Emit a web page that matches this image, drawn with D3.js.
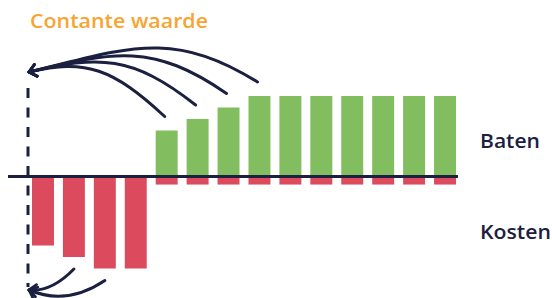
<!DOCTYPE html>
<html>
<head>
<meta charset="utf-8">
<script src="https://cdn.jsdelivr.net/npm/d3@7"></script>
<style>
  body { margin: 0; background: #fff; }
  text { font-family: "Open Sans", "DejaVu Sans", sans-serif; font-weight: 600; }
</style>
</head>
<body>
<script>
// jaren (kolommen), baten en kosten per jaar
var jaren = ["1", "2", "3", "4", "5", "6", "7", "8", "9", "10", "11", "12", "13", "14"];
var baten = [0, 0, 0, 0, 4, 5, 6, 7, 7, 7, 7, 7, 7, 7];
var kosten = [-6, -7, -8, -8, -0.7, -0.7, -0.7, -0.7, -0.7, -0.7, -0.7, -0.7, -0.7, -0.7];
var titel = "Contante waarde";
var reeksNamen = ["Baten", "Kosten"];
// welke jaren met een pijl terug naar nu worden gerekend
var pijlenBaten = ["5", "6", "7", "8"];
var pijlenKosten = ["2", "3"];

var width = 552, height = 298;
var groen = "#82bd5f", rood = "#db4b5d", navy = "#1b2040", oranje = "#f7a531";

var svg = d3.select("body")
  .append("svg")
    .attr("width", width)
    .attr("height", height);

var x = d3.scaleBand()
  .domain(jaren)
  .range([32, 456])
  .paddingInner(0.29)
  .paddingOuter(0);

var y = d3.scaleLinear()
  .domain([-8, 7])
  .range([268.5, 96]);

var defs = svg.append("defs");
defs.append("marker")
    .attr("id", "pijl")
    .attr("markerUnits", "userSpaceOnUse")
    .attr("markerWidth", 20)
    .attr("markerHeight", 20)
    .attr("refX", 0)
    .attr("refY", 0)
    .attr("orient", "auto")
    .style("overflow", "visible")
  .append("path")
    .attr("d", "M-7,-6L0,0L-7,6")
    .attr("fill", "none")
    .attr("stroke", navy)
    .attr("stroke-width", 2.8)
    .attr("stroke-linecap", "round")
    .attr("stroke-linejoin", "round");

// kosten (onder de as)
svg.append("g").selectAll("rect")
  .data(jaren)
  .join("rect")
    .attr("x", function(d) { return x(d); })
    .attr("y", y(0))
    .attr("width", x.bandwidth())
    .attr("height", function(d, i) { return y(kosten[i]) - y(0); })
    .attr("fill", rood);

// baten (boven de as)
svg.append("g").selectAll("rect")
  .data(jaren.filter(function(d, i) { return baten[i] > 0; }))
  .join("rect")
    .attr("x", function(d) { return x(d); })
    .attr("y", function(d) { return y(baten[jaren.indexOf(d)]); })
    .attr("width", x.bandwidth())
    .attr("height", function(d) { return y(0) - y(baten[jaren.indexOf(d)]); })
    .attr("fill", groen);

// as
svg.append("line")
    .attr("x1", 8)
    .attr("x2", 458)
    .attr("y1", y(0))
    .attr("y2", y(0))
    .attr("stroke", navy)
    .attr("stroke-width", 3);

// gestippelde lijn "nu"
var nuX = 28;
svg.append("line")
    .attr("x1", nuX)
    .attr("x2", nuX)
    .attr("y1", 88)
    .attr("y2", 287)
    .attr("stroke", navy)
    .attr("stroke-width", 3)
    .attr("stroke-dasharray", "10,9.5");

// pijlen van baten terug naar nu
var eindBoven = [nuX + 1, 72];
pijlenBaten.forEach(function(d) {
  var i = jaren.indexOf(d);
  var sx = x(d) + x.bandwidth() / 2 - 2, sy = y(baten[i]) - 14;
  var ex = eindBoven[0], ey = eindBoven[1];
  var dx = sx - ex;
  var p = d3.path();
  p.moveTo(sx, sy);
  p.bezierCurveTo(sx - 0.38 * dx, sy - 0.22 * dx - (sy - ey) * 0.4,
                  ex + 0.42 * dx, ey - 0.1 * dx,
                  ex, ey);
  svg.append("path")
      .attr("d", p.toString())
      .attr("fill", "none")
      .attr("stroke", navy)
      .attr("stroke-width", 3)
      .attr("stroke-linecap", "round")
      .attr("marker-end", "url(#pijl)");
});

// pijlen van kosten terug naar nu
var eindOnder = [nuX + 1, 290];
pijlenKosten.forEach(function(d) {
  var i = jaren.indexOf(d);
  var sx = x(d) + x.bandwidth() / 2, sy = y(kosten[i]) + 12;
  var ex = eindOnder[0], ey = eindOnder[1];
  var dx = sx - ex;
  var p = d3.path();
  p.moveTo(sx, sy);
  p.quadraticCurveTo(ex + 0.5 * dx, ey + (dx - 40) * 0.45, ex, ey);
  svg.append("path")
      .attr("d", p.toString())
      .attr("fill", "none")
      .attr("stroke", navy)
      .attr("stroke-width", 3)
      .attr("stroke-linecap", "round")
      .attr("marker-end", "url(#pijl)");
});

// teksten
svg.append("text")
    .attr("x", 30)
    .attr("y", 28)
    .attr("font-size", 19)
    .attr("fill", oranje)
    .attr("textLength", 178)
    .attr("lengthAdjust", "spacingAndGlyphs")
    .text(titel);

svg.append("text")
    .attr("x", 480)
    .attr("y", 148)
    .attr("font-size", 19)
    .attr("fill", navy)
    .attr("textLength", 60)
    .attr("lengthAdjust", "spacingAndGlyphs")
    .text(reeksNamen[0]);

svg.append("text")
    .attr("x", 480)
    .attr("y", 239)
    .attr("font-size", 19)
    .attr("fill", navy)
    .attr("textLength", 71)
    .attr("lengthAdjust", "spacingAndGlyphs")
    .text(reeksNamen[1]);
</script>
</body>
</html>
